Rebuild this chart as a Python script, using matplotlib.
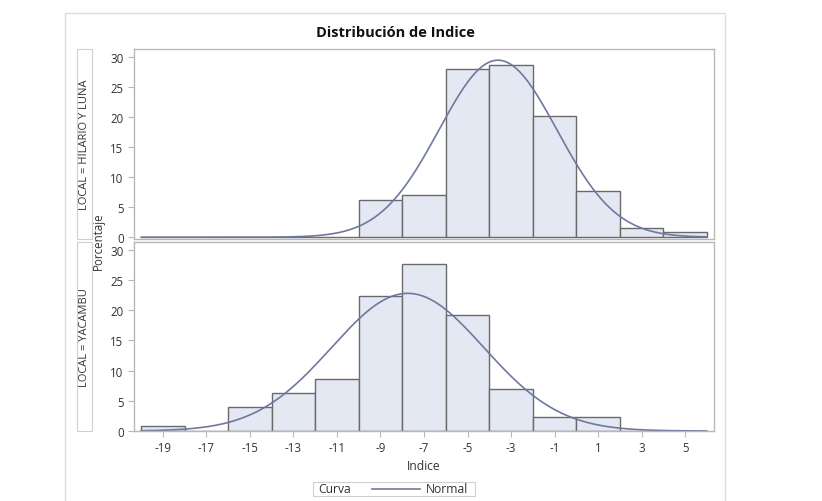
import numpy as np
import matplotlib
matplotlib.use("Agg")
import matplotlib.pyplot as plt
from matplotlib.patches import Rectangle
from matplotlib.lines import Line2D

plt.rcParams['font.family'] = ['Open Sans', 'DejaVu Sans']
plt.rcParams['axes.unicode_minus'] = False

# Data (percent per bin of width 2)
bin_edges = [-20, -18, -16, -14, -12, -10, -8, -6, -4, -2, 0, 2, 4, 6]
hilario_pct = [0, 0, 0, 0, 0, 6.2, 7.0, 27.9, 28.7, 20.2, 7.7, 1.6, 0.8]
yacambu_pct = [0.8, 0, 3.9, 6.3, 8.6, 22.3, 27.7, 19.2, 6.9, 2.4, 2.4, 0, 0]

# fitted normal parameters (mean, std)
hilario_fit = (-3.6, 2.71)
yacambu_fit = (-7.75, 3.5)

panels = [("LOCAL = HILARIO Y LUNA", hilario_pct, hilario_fit),
          ("LOCAL = YACAMBU", yacambu_pct, yacambu_fit)]

xticks = list(range(-19, 6, 2))
yticks = [0, 5, 10, 15, 20, 25, 30]

BAR_FILL = '#e4e8f2'
BAR_EDGE = '#6a6a6a'
CURVE = '#6f789f'
FRAME = '#b8b8b8'
TEXT = '#333333'

W, H = 822, 502
fig = plt.figure(figsize=(W / 100, H / 100), dpi=100)


def px(l, t, r, b):
    return [l / W, 1 - b / H, (r - l) / W, (b - t) / H]


# outer frame
fig.patches.append(Rectangle((65 / W, -0.01), (725 - 65) / W, 1 - 14 / H + 0.01,
                             transform=fig.transFigure, fill=False,
                             edgecolor='#dddddd', lw=1))

fig.text(395 / W, 1 - 33 / H, "Distribución de Indice", ha='center', va='center',
         fontsize=10.5, fontweight='bold', color='#111111')

boxes = [(50, 240), (243, 432)]
edges = np.array(bin_edges)
lefts = edges[:-1]
xs = np.linspace(-20, 6, 400)

for (label, pct, (mu, sd)), (top, bot) in zip(panels, boxes):
    ax = fig.add_axes(px(134, top, 714, bot))
    ax.bar(lefts, pct, width=2, align='edge', color=BAR_FILL,
           edgecolor=BAR_EDGE, linewidth=1.0)
    curve = 100 * 2 * np.exp(-0.5 * ((xs - mu) / sd) ** 2) / (sd * np.sqrt(2 * np.pi))
    ax.plot(xs, curve, color=CURVE, lw=1.2)
    ax.set_xlim(-20.33, 6.33)
    ax.set_ylim(-0.3 if top == 50 else 0, 31.3)
    ax.set_yticks(yticks)
    ax.set_xticks(xticks)
    for s in ax.spines.values():
        s.set_color(FRAME)
        s.set_linewidth(1)
    ax.tick_params(axis='both', colors=FRAME, labelcolor=TEXT, labelsize=8.3, length=4, width=0.8)
    if top == 50:
        ax.tick_params(axis='x', bottom=False, labelbottom=False)
    # strip label box
    fig.patches.append(Rectangle((77 / W, 1 - bot / H), 15 / W, (bot - top) / H,
                                 transform=fig.transFigure, facecolor='white',
                                 edgecolor='#cfcfcf', lw=0.8))
    fig.text(84.5 / W, 1 - (top + bot) / 2 / H, label, rotation=90, ha='center',
             va='center', fontsize=8, color=TEXT)

fig.text(98 / W, 1 - 241 / H, "Porcentaje", rotation=90, ha='center', va='center',
         fontsize=8.3, color=TEXT)
fig.text(424 / W, 1 - 467 / H, "Indice", ha='center', va='center', fontsize=8.7, color=TEXT)

# legend box
fig.patches.append(Rectangle((313 / W, 1 - 497 / H), (475 - 313) / W, 14 / H,
                             transform=fig.transFigure, facecolor='white',
                             edgecolor='#cfcfcf', lw=0.8))
fig.text(318 / W, 1 - 490 / H, "Curva", ha='left', va='center', fontsize=8.7, color=TEXT)
fig.lines.append(Line2D([372 / W, 420 / W], [1 - 490 / H, 1 - 490 / H],
                        transform=fig.transFigure, color=CURVE, lw=1.2))
fig.text(426 / W, 1 - 490 / H, "Normal", ha='left', va='center', fontsize=8.7, color=TEXT)

fig.savefig("out.png", dpi=100)
